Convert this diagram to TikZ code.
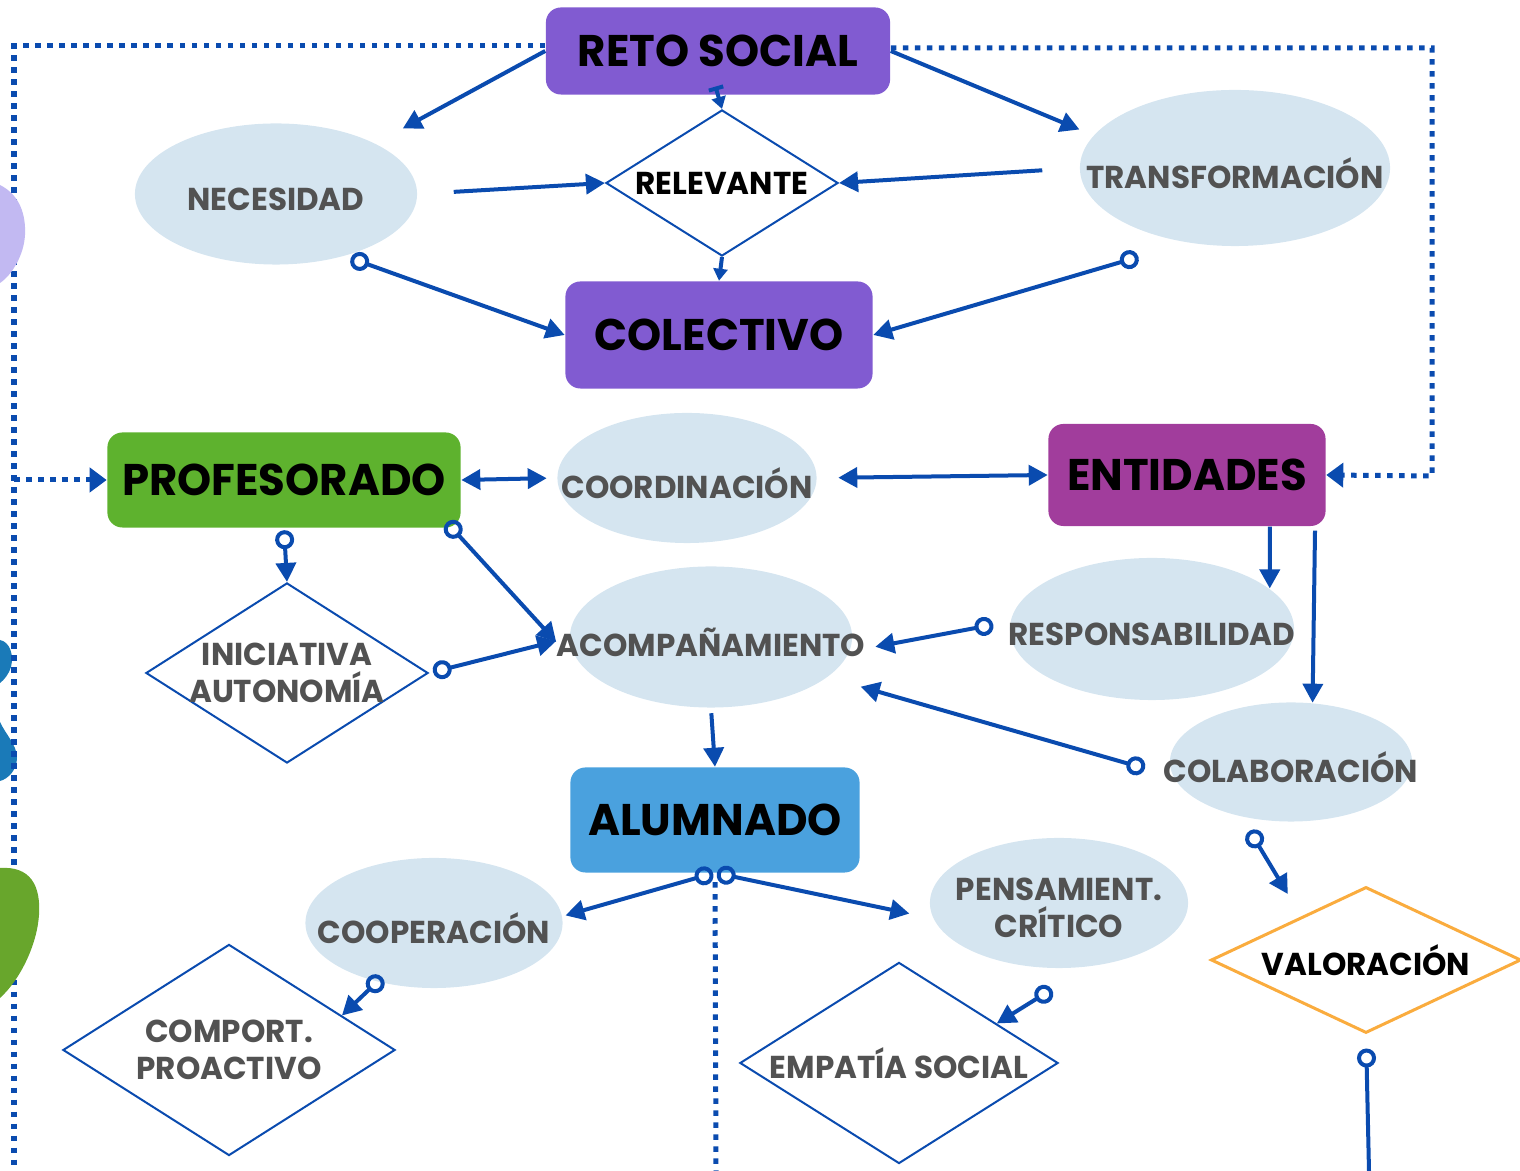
\documentclass[tikz,border=0pt]{standalone}
\usepackage{fontspec}
\setmainfont{Poppins}[FakeStretch=0.98]
\usetikzlibrary{shapes.geometric,arrows.meta}
\definecolor{retoviolet}{RGB}{129,91,209}
\definecolor{entmagenta}{RGB}{161,61,156}
\definecolor{profgreen}{RGB}{94,178,46}
\definecolor{alumblue}{RGB}{74,161,222}
\definecolor{ovalblue}{RGB}{213,229,240}
\definecolor{linkblue}{RGB}{10,75,175}
\definecolor{graytxt}{RGB}{82,82,82}
\definecolor{valorange}{RGB}{250,172,62}
\definecolor{blobblue}{RGB}{26,122,184}
\definecolor{blobgreen}{RGB}{104,166,44}
\definecolor{bloblilac}{RGB}{194,185,242}
\newcommand{\bigtxt}{\fontsize{12.6}{15}\selectfont\bfseries}
\newcommand{\smalltxt}{\fontsize{9}{10.6}\selectfont\bfseries}

\begin{document}
\begin{tikzpicture}[x=0.01cm,y=-0.01cm,
  box/.style={rounded corners=0.15cm,inner sep=0pt,font=\bigtxt,text=black},
  oval/.style={ellipse,fill=ovalblue,inner sep=0pt},
  rhomb/.style={diamond,draw=linkblue,line width=0.02cm,fill=white,inner sep=0pt},
  ovaltxt/.style={font=\smalltxt,text=graytxt,align=center,inner sep=0pt,yshift=-0.05cm},
  rhombtxt/.style={font=\smalltxt,text=graytxt,align=center,inner sep=0pt},
  link/.style={draw=linkblue,line width=0.04cm,-{Triangle[length=0.19cm,width=0.2cm]}},
  olink/.style={link,{Circle[open,length=0.19cm,width=0.19cm]}-{Triangle[length=0.19cm,width=0.2cm]}},
  twolink/.style={link,{Triangle[length=0.19cm,width=0.2cm]}-{Triangle[length=0.19cm,width=0.2cm]}},
  dotframe/.style={draw=linkblue,line width=0.05cm,dash pattern=on 0.055cm off 0.065cm}]
\useasboundingbox (0,0) rectangle (1520,1171);

\fill[blobblue] (0,640) .. controls (10,642) and (14,655) .. (11,667) .. controls (9,674) and (4,680) .. (0,683) -- cycle;
\fill[blobblue] (0,722) .. controls (6,735) and (17,745) .. (17,758) .. controls (17,770) and (8,779) .. (0,781) -- cycle;

\node[box,fill=retoviolet,minimum width=3.44cm,minimum height=0.87cm] (reto) at (718,51) {RETO SOCIAL};
\node[rhomb,minimum width=2.32cm,minimum height=1.46cm,label={[rhombtxt,text=black]center:RELEVANTE}] (rel) at (722,183) {};
\node[oval,minimum width=2.82cm,minimum height=1.41cm,label={[ovaltxt]center:NECESIDAD}] (neces) at (276,194) {};
\node[oval,minimum width=3.10cm,minimum height=1.56cm,label={[ovaltxt]center:TRANSFORMACIÓN}] (transf) at (1235,168) {};
\node[box,fill=retoviolet,minimum width=3.07cm,minimum height=1.07cm] (colect) at (719,335) {COLECTIVO};
\node[box,fill=profgreen,minimum width=3.53cm,minimum height=0.95cm] (prof) at (284,480) {PROFESORADO};
\node[oval,minimum width=2.59cm,minimum height=1.30cm,label={[ovaltxt]center:COORDINACIÓN}] (coord) at (687,478) {};
\node[box,fill=entmagenta,minimum width=2.77cm,minimum height=1.02cm] (ent) at (1187,475) {ENTIDADES};
\node[oval,minimum width=2.84cm,minimum height=1.42cm,label={[ovaltxt]center:RESPONSABILIDAD}] (resp) at (1152,629) {};
\node[oval,minimum width=2.82cm,minimum height=1.41cm,label={[ovaltxt]center:ACOMPAÑAMIENTO}] (acomp) at (711,637) {};
\node[rhomb,minimum width=2.82cm,minimum height=1.80cm,label={[rhombtxt]center:{INICIATIVA\\AUTONOMÍA}}] (inic) at (287,673) {};
\node[oval,minimum width=2.42cm,minimum height=1.19cm,label={[ovaltxt]center:COLABORACIÓN}] (colab) at (1291,762) {};
\node[box,fill=alumblue,minimum width=2.89cm,minimum height=1.05cm] (alum) at (715,820) {ALUMNADO};
\node[oval,minimum width=2.57cm,minimum height=1.30cm,label={[ovaltxt]center:COOPERACIÓN}] (coop) at (434,923) {};
\node[oval,minimum width=2.58cm,minimum height=1.30cm,label={[ovaltxt]center:{PENSAMIENT.\\CRÍTICO}}] (pens) at (1059,903) {};
\node[rhomb,draw=valorange,line width=0.03cm,minimum width=3.10cm,minimum height=1.46cm,label={[rhombtxt,text=black]center:VALORACIÓN}] (valor) at (1366,960) {};
\node[rhomb,minimum width=3.32cm,minimum height=2.11cm,label={[rhombtxt]center:{COMPORT.\\PROACTIVO}}] (comport) at (229,1050) {};
\node[rhomb,minimum width=3.18cm,minimum height=2.01cm,label={[rhombtxt]center:EMPATÍA SOCIAL}] (emp) at (899,1063) {};

\coordinate (lframe) at (14,1171);
\coordinate (rframe) at (1432,476);
\coordinate (cdrop) at (716,1171);
\coordinate (valdrop) at (1369,1171);

\draw[dotframe] ([yshift=0.05cm]reto.west) -| (lframe);
\draw[dotframe,-{Triangle[length=0.17cm,width=0.24cm]}] (lframe |- prof.west) -- (prof.west);
\draw[dotframe,-{Triangle[length=0.17cm,width=0.24cm]}] ([yshift=0.03cm]reto.east) -| (rframe) -- (ent.east);
\draw[dotframe,shorten <=0.09cm] (alum.south) -- (cdrop);

\fill[bloblilac] (0,185) .. controls (20,195) and (26,215) .. (25,235) .. controls (24,255) and (12,275) .. (0,283) -- cycle;
\fill[blobgreen] (0,868) .. controls (30,866) and (41,885) .. (39,915) .. controls (37,945) and (20,980) .. (0,998) -- cycle;

\draw[link,shorten >=0.31cm] (reto.west) -- (neces.27);
\draw[link,shorten >=0.15cm] (reto.east) -- (transf.167);
\draw[link,{Bar[width=0.15cm]}-{Triangle[length=0.12cm,width=0.14cm]},shorten <=-0.09cm] (reto.south) -- (rel.north);
\draw[link,shorten <=0.36cm] (neces.east) -- (rel.west);
\draw[link,shorten <=0.37cm] (transf.west) -- (rel.east);
\draw[link,-{Triangle[length=0.12cm,width=0.14cm]}] (rel.south) -- (colect.north);
\draw[olink,shorten <=0.06cm] (neces.-42) -- (colect.west);
\draw[olink,shorten <=0.5cm] (transf.-123) -- (colect.east);
\draw[twolink,shorten >=0.1cm] (prof.east) -- (coord.west);
\draw[twolink,shorten <=0.21cm] (coord.east) -- (ent.west);
\draw[olink,shorten <=0.02cm] (prof.south) -- (inic.north);
\draw[olink,shorten <=-0.08cm] (prof.-16) -- ([shift={(-13,5)}]acomp.west);
\draw[olink,shorten <=0.04cm] (inic.east) -- ([shift={(-13,4)}]acomp.west);
\draw[link] (ent.-32) -- (resp.19);
\draw[link,shorten <=0.04cm] (ent.-22) -- (colab.70);
\draw[olink,shorten <=0.17cm,shorten >=0.26cm] (resp.177) -- (acomp.-6);
\draw[olink,shorten <=0.29cm,shorten >=0.34cm] (colab.187) -- (acomp.-19);
\draw[link,shorten <=0.05cm] (acomp.south) -- (alum.north);
\draw[olink,shorten >=0.03cm] (alum.-92) -- (coop.3);
\draw[olink,shorten >=0.24cm] (alum.-88) -- (pens.187);
\draw[olink,shorten <=-0.07cm] (coop.-134) -- (comport.17);
\draw[olink,shorten <=0.42cm] (pens.-66) -- (emp.22);
\draw[olink,shorten <=0.16cm,shorten >=0.26cm] (colab.-132) -- (valor.146);
\draw[link,{Circle[open,length=0.19cm,width=0.19cm]}-,shorten <=0.14cm] (valor.south) -- (valdrop);
\end{tikzpicture}
\end{document}
